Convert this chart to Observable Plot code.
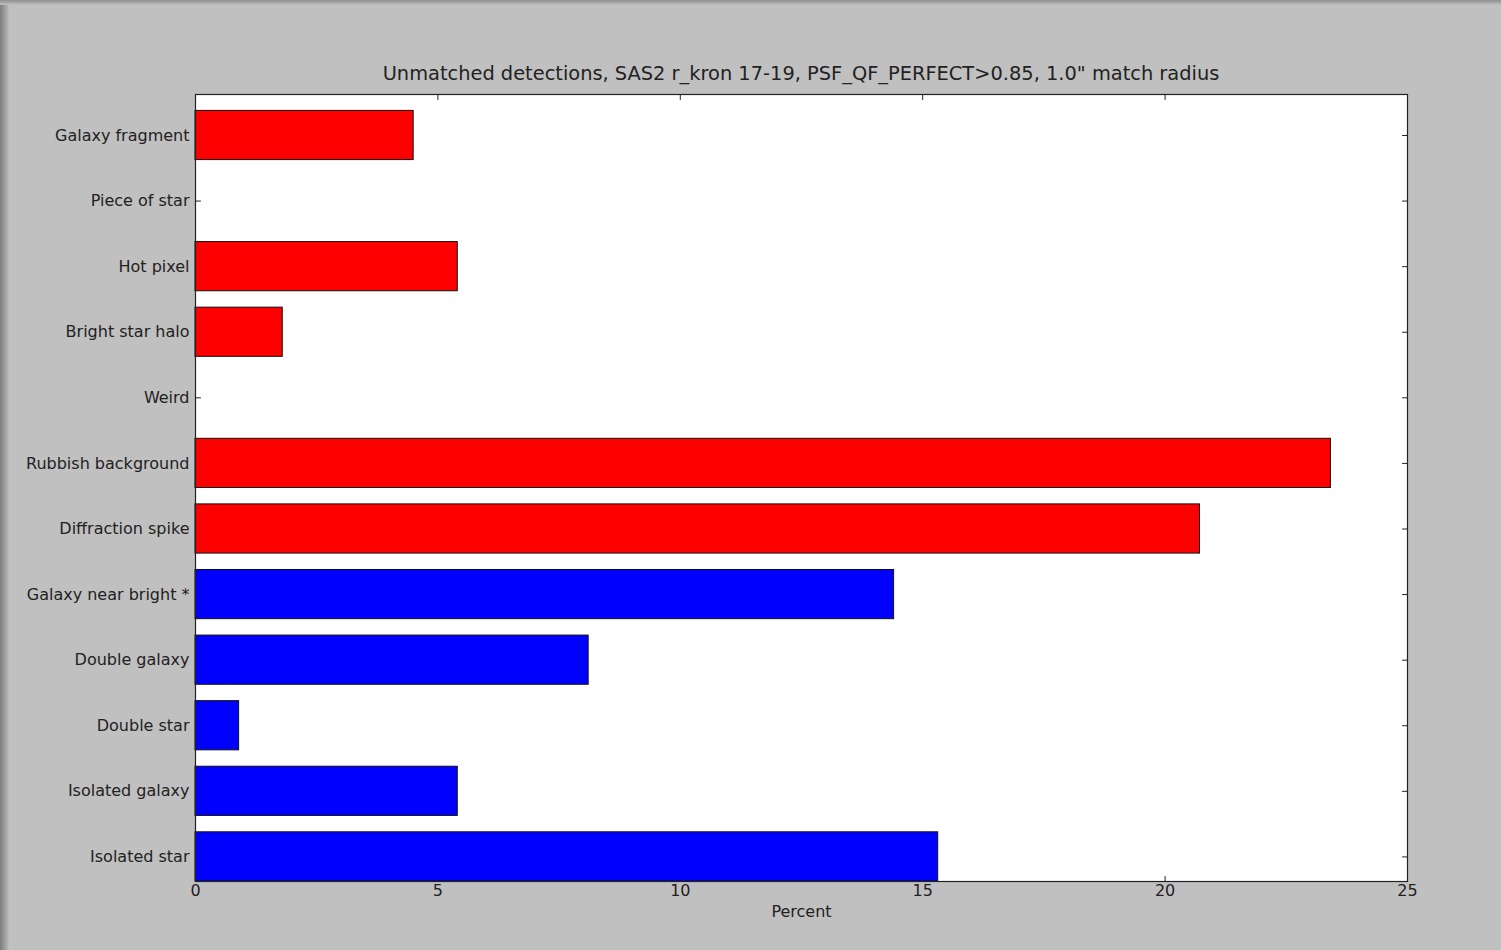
<!DOCTYPE html>
<html>
<head>
<meta charset="utf-8">
<script src="https://cdn.jsdelivr.net/npm/d3@7"></script>
<script src="https://cdn.jsdelivr.net/npm/@observablehq/plot@0.6"></script>
<style>
  html, body { margin: 0; padding: 0; background: #c0c0c0; }
  #wrap { position: relative; width: 1501px; height: 950px; overflow: hidden;
          background: linear-gradient(to right, #7d7d7d 0px, #a5a5a5 6px, #c0c0c0 9px); }
  #topstrip { position: absolute; left: 0; top: 0; width: 1501px; height: 5px;
              background: linear-gradient(to bottom, #8e8e8e, #c0c0c0); }
  #title { position: absolute; left: 195px; width: 1212px; top: 62px; text-align: center;
           font-family: "DejaVu Sans", sans-serif; font-size: 19.4px; color: #222; line-height: 24px; }
  #chart { position: absolute; left: 0; top: 0; }
</style>
</head>
<body>
<div id="wrap">
  <div id="topstrip"></div>
  <div id="chart"></div>
  <div id="title">Unmatched detections, SAS2 r_kron 17-19, PSF_QF_PERFECT&gt;0.85, 1.0" match radius</div>
</div>
<script>
// Categories listed bottom to top
const categories = [
  "Isolated star", "Isolated galaxy", "Double star", "Double galaxy",
  "Galaxy near bright *", "Diffraction spike", "Rubbish background", "Weird",
  "Bright star halo", "Hot pixel", "Piece of star", "Galaxy fragment"
];
const percents = [15.32, 5.41, 0.90, 8.11, 14.41, 20.72, 23.42, 0, 1.80, 5.41, 0, 4.50];
const groups = ["blue", "blue", "blue", "blue", "blue", "red", "red", "red", "red", "red", "red", "red"];
const xTicks = [0, 5, 10, 15, 20, 25];

const barHeight = 0.75;
const rows = categories.map((c, i) => ({category: c, value: percents[i], group: groups[i], pos: i}));
const yTicks = categories.map((c, i) => i + barHeight / 2);

const tickShape = {draw(ctx, l) { ctx.moveTo(0, 0); ctx.lineTo(0, -l); }};
const tickStyle = {length: 5, anchor: "start", shape: tickShape, stroke: "#222", strokeWidth: 1};

const chart = Plot.plot({
  width: 1501,
  height: 950,
  marginLeft: 195,
  marginRight: 94,
  marginTop: 94,
  marginBottom: 69,
  style: {background: "transparent", fontFamily: "DejaVu Sans, sans-serif", fontSize: "16px", color: "#222"},
  x: {domain: [0, 25]},
  y: {domain: [0, 12]},
  marks: [
    Plot.frame({fill: "white", stroke: null}),
    Plot.vector(xTicks, {x: d => d, frameAnchor: "bottom", rotate: 0, ...tickStyle}),
    Plot.vector(xTicks, {x: d => d, frameAnchor: "top", rotate: 180, ...tickStyle}),
    Plot.vector(yTicks, {y: d => d, frameAnchor: "left", rotate: 90, ...tickStyle}),
    Plot.vector(yTicks, {y: d => d, frameAnchor: "right", rotate: -90, ...tickStyle}),
    Plot.rectX(rows, {
      x1: 0, x2: "value",
      y1: "pos", y2: d => d.pos + barHeight,
      fill: d => d.group === "red" ? "#ff0000" : "#0000ff",
      stroke: "#111", strokeWidth: 1
    }),
    Plot.frame({stroke: "#222", strokeWidth: 1.2}),
    Plot.axisX({
      anchor: "bottom", ticks: xTicks, tickSize: 0, tickPadding: 3,
      fontSize: 16, label: "Percent", labelAnchor: "center", labelArrow: "none", labelOffset: 35
    }),
    Plot.axisY({
      anchor: "left", ticks: yTicks, tickSize: 0, tickPadding: 6, fontSize: 16,
      tickFormat: d => categories[Math.round(d - barHeight / 2)], label: null
    })
  ]
});
document.getElementById("chart").appendChild(chart);
</script>
</body>
</html>
